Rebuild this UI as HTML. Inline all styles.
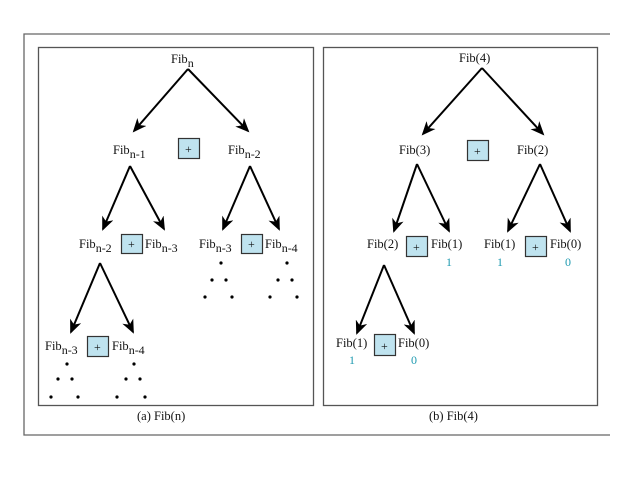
<!DOCTYPE html>
<html><head><meta charset="utf-8"><style>
html,body{margin:0;padding:0;background:#fff}
svg{display:block}
text{font-family:"Liberation Serif",serif;font-size:12.5px;fill:#111}
.s{font-size:12px}
.b{fill:#1e9ab0;font-size:12px}
.p{font-size:12px}
.box{fill:#bfe3ef;stroke:#333;stroke-width:1.2}
.ln{stroke:#000;stroke-width:2;fill:none}
</style></head><body>
<svg width="638" height="478" viewBox="0 0 638 478">
<defs><marker id="a" markerWidth="14" markerHeight="12" refX="12" refY="6" orient="auto" markerUnits="userSpaceOnUse"><path d="M0,0 L14,6 L0,12 L4,6 z" fill="#000"/></marker></defs>
<path d="M610,34 H24 V435 H610" fill="none" stroke="#666" stroke-width="1.3"/>
<rect x="38.5" y="47.5" width="275" height="358" fill="none" stroke="#555" stroke-width="1.3"/>
<rect x="323.5" y="47.5" width="274" height="358" fill="none" stroke="#555" stroke-width="1.3"/>
<text x="137" y="420">(a) Fib(n)</text>
<text x="429" y="420">(b) Fib(4)</text>

<!-- panel a -->
<text x="171" y="63">Fib<tspan class="s" dy="4">n</tspan></text>
<line class="ln" x1="188" y1="69" x2="134" y2="131" marker-end="url(#a)"/>
<line class="ln" x1="188" y1="69" x2="248" y2="131" marker-end="url(#a)"/>
<text x="113" y="154">Fib<tspan class="s" dy="4">n-1</tspan></text>
<rect class="box" x="178.5" y="138.5" width="21" height="20"/><text class="p" x="185" y="153">+</text>
<text x="228" y="154">Fib<tspan class="s" dy="4">n-2</tspan></text>
<line class="ln" x1="130" y1="166" x2="103" y2="229" marker-end="url(#a)"/>
<line class="ln" x1="130" y1="166" x2="164" y2="229" marker-end="url(#a)"/>
<line class="ln" x1="250" y1="166" x2="223" y2="229" marker-end="url(#a)"/>
<line class="ln" x1="250" y1="166" x2="279" y2="229" marker-end="url(#a)"/>
<text x="79" y="248">Fib<tspan class="s" dy="4">n-2</tspan></text>
<rect class="box" x="121.5" y="234.5" width="21" height="19"/><text class="p" x="128" y="248">+</text>
<text x="145" y="248">Fib<tspan class="s" dy="4">n-3</tspan></text>
<text x="199" y="248">Fib<tspan class="s" dy="4">n-3</tspan></text>
<rect class="box" x="241.5" y="234.5" width="21" height="19"/><text class="p" x="248" y="248">+</text>
<text x="265" y="248">Fib<tspan class="s" dy="4">n-4</tspan></text>
<line class="ln" x1="100" y1="263" x2="71" y2="332" marker-end="url(#a)"/>
<line class="ln" x1="100" y1="263" x2="133" y2="332" marker-end="url(#a)"/>
<text x="45" y="350">Fib<tspan class="s" dy="4">n-3</tspan></text>
<rect class="box" x="87.5" y="336.5" width="21" height="20"/><text class="p" x="94" y="351">+</text>
<text x="112" y="350">Fib<tspan class="s" dy="4">n-4</tspan></text>
<g fill="#000">
<circle cx="67" cy="364" r="1.6"/><circle cx="58" cy="379" r="1.6"/><circle cx="72" cy="379" r="1.6"/><circle cx="51" cy="397" r="1.6"/><circle cx="78" cy="397" r="1.6"/>
<circle cx="134" cy="364" r="1.6"/><circle cx="126" cy="379" r="1.6"/><circle cx="140" cy="379" r="1.6"/><circle cx="117" cy="397" r="1.6"/><circle cx="145" cy="397" r="1.6"/>
<circle cx="221" cy="263" r="1.6"/><circle cx="212" cy="280" r="1.6"/><circle cx="226" cy="280" r="1.6"/><circle cx="205" cy="297" r="1.6"/><circle cx="232" cy="297" r="1.6"/>
<circle cx="287" cy="263" r="1.6"/><circle cx="278" cy="280" r="1.6"/><circle cx="292" cy="280" r="1.6"/><circle cx="270" cy="297" r="1.6"/><circle cx="297" cy="297" r="1.6"/>
</g>

<!-- panel b -->
<text x="459" y="62">Fib(4)</text>
<line class="ln" x1="482" y1="68" x2="423" y2="134" marker-end="url(#a)"/>
<line class="ln" x1="482" y1="68" x2="543" y2="134" marker-end="url(#a)"/>
<text x="399" y="154">Fib(3)</text>
<rect class="box" x="467.5" y="140.5" width="21" height="20"/><text class="p" x="474" y="155">+</text>
<text x="517" y="154">Fib(2)</text>
<line class="ln" x1="417" y1="164" x2="394" y2="231" marker-end="url(#a)"/>
<line class="ln" x1="417" y1="164" x2="449" y2="231" marker-end="url(#a)"/>
<line class="ln" x1="540" y1="164" x2="508" y2="231" marker-end="url(#a)"/>
<line class="ln" x1="540" y1="164" x2="570" y2="231" marker-end="url(#a)"/>
<text x="367" y="248">Fib(2)</text>
<rect class="box" x="406.5" y="236.5" width="21" height="20"/><text class="p" x="413" y="251">+</text>
<text x="431" y="248">Fib(1)</text><text class="b" x="446" y="266">1</text>
<text x="484" y="248">Fib(1)</text><text class="b" x="497" y="266">1</text>
<rect class="box" x="525.5" y="236.5" width="21" height="20"/><text class="p" x="532" y="251">+</text>
<text x="550" y="248">Fib(0)</text><text class="b" x="565" y="266">0</text>
<line class="ln" x1="384" y1="265" x2="357" y2="333" marker-end="url(#a)"/>
<line class="ln" x1="384" y1="265" x2="414" y2="333" marker-end="url(#a)"/>
<text x="336" y="347">Fib(1)</text><text class="b" x="349" y="364">1</text>
<rect class="box" x="374.5" y="334.5" width="21" height="21"/><text class="p" x="381" y="350">+</text>
<text x="398" y="347">Fib(0)</text><text class="b" x="411" y="364">0</text>
</svg>
</body></html>
